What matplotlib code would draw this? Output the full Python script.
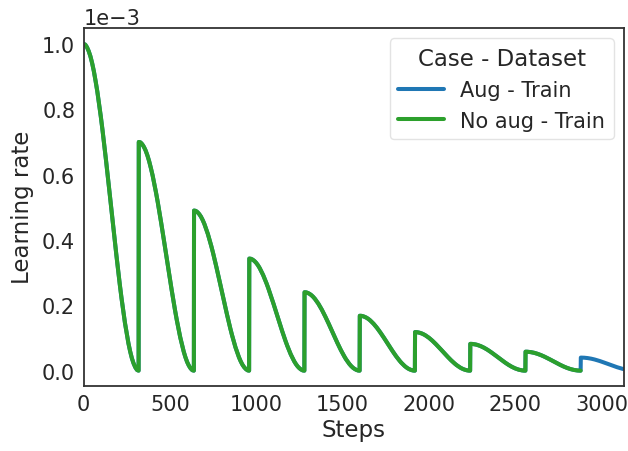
import numpy as np
import seaborn as sns
from matplotlib import pyplot as plt

# cosine annealing with warm restarts
restart_steps = [0, 320, 640, 960, 1280, 1600, 1920, 2240, 2560, 2880]
peak_lr = [1.0e-3, 0.70e-3, 0.49e-3, 0.343e-3, 0.24e-3, 0.168e-3, 0.118e-3, 0.082e-3, 0.058e-3, 0.040e-3]
# fraction of the cycle peak at each offset inside a cycle
cycle_offsets = [0, 10, 20, 30, 40, 50, 60, 70, 80, 90, 100, 110, 120, 130, 140, 150, 160,
                 170, 180, 190, 200, 210, 220, 230, 240, 250, 260, 270, 280, 290, 300, 310, 319]
cycle_shape = [1.0, 0.998, 0.990, 0.978, 0.962, 0.941, 0.916, 0.886, 0.854, 0.817, 0.778,
               0.736, 0.691, 0.645, 0.598, 0.549, 0.5, 0.451, 0.402, 0.355, 0.309, 0.264,
               0.222, 0.183, 0.146, 0.114, 0.084, 0.059, 0.038, 0.022, 0.010, 0.002, 0.0]

aug_last_step = 3130
noaug_last_step = 2879

cases = ["Aug - Train", "No aug - Train"]
colors = ["#1f77b4", "#2ca02c"]


def build(last_step):
    xs, ys = [], []
    for start, peak in zip(restart_steps, peak_lr):
        for off, frac in zip(cycle_offsets, cycle_shape):
            if start + off <= last_step:
                xs.append(start + off)
                ys.append(peak * frac)
    return np.array(xs), np.array(ys)


sns.set_theme(style="white")
plt.rcParams['font.family'] = ['DejaVu Sans']

fig = plt.figure(figsize=(6.28, 4.52), dpi=100)
ax = fig.add_axes([0.133, 0.1445, 0.8606, 0.7915])

for case, col, last in zip(cases, colors, [aug_last_step, noaug_last_step]):
    x, y = build(last)
    ax.plot(x, y, color=col, lw=2.9, label=case)

ax.set_xlim(0, aug_last_step)
ax.set_ylim(-0.046e-3, 1.049e-3)
ax.ticklabel_format(axis='y', style='sci', scilimits=(-3, -3))
ax.yaxis.get_offset_text().set_fontsize(15)
ax.tick_params(labelsize=15, length=0, pad=6)
ax.set_xticks([0, 500, 1000, 1500, 2000, 2500, 3000])
ax.set_yticks([0, 0.2e-3, 0.4e-3, 0.6e-3, 0.8e-3, 1.0e-3])
ax.set_xlabel("Steps", fontsize=16.5, labelpad=3)
ax.set_ylabel("Learning rate", fontsize=16.5, labelpad=6)
for s in ax.spines.values():
    s.set_color("#333333")
    s.set_linewidth(1.3)

leg = ax.legend(title="Case - Dataset", loc="upper right", fontsize=15,
                title_fontsize=16.5, frameon=True, handlelength=2.2,
                borderaxespad=0.5)
leg.get_frame().set_edgecolor("#dddddd")

fig.savefig("out.png", dpi=100)
